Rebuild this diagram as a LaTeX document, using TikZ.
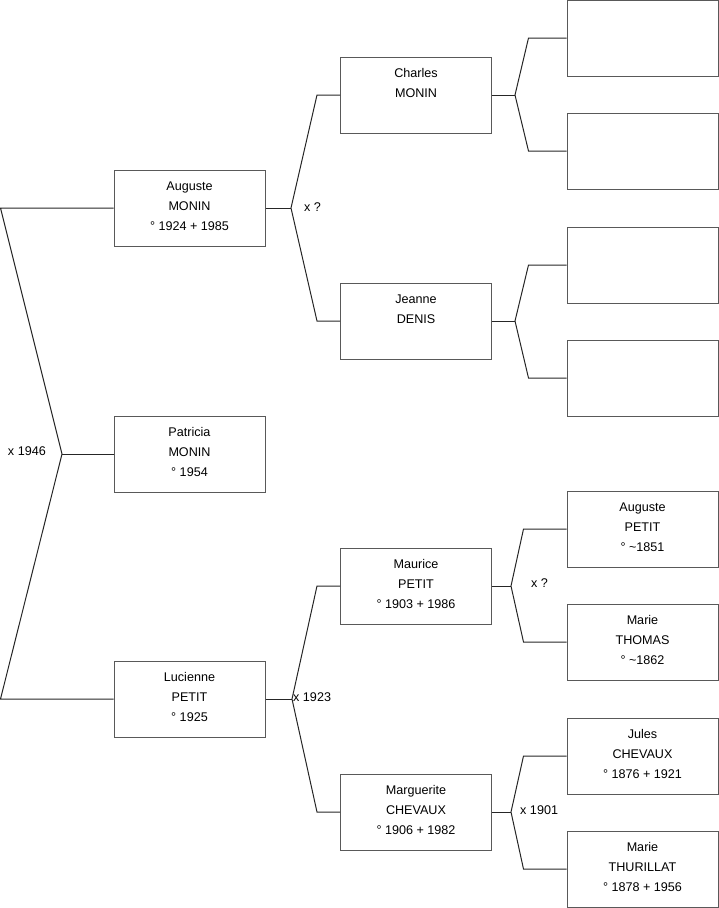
\documentclass[tikz,border=0pt]{standalone}
\usepackage{fontspec}
\setmainfont{Liberation Sans}
\usetikzlibrary{positioning}

\tikzset{
  person/.style={draw=black!65, line width=1pt, minimum width=151pt, minimum height=76pt, inner sep=0pt},
  names/.style={anchor=north, align=center, inner sep=0pt, yshift=-12pt, font=\fontsize{12.6}{20}\selectfont},
  link/.style={draw=black!85, line width=1pt},
  union/.style={font=\fontsize{12.6}{14}\selectfont, inner sep=0pt}
}

\begin{document}
\begin{tikzpicture}[x=1pt, y=-1pt]
    \useasboundingbox (0,0) rectangle (719,908);

    % generation 1 and 2
    \node[person, label={[names]north:{Auguste\\MONIN\\° 1924 + 1985}}] (auguste) at (189.5,208) {};
    \node[person, label={[names]north:{Patricia\\MONIN\\° 1954}}] (patricia) at (189.5,454) {};
    \node[person, label={[names]north:{Lucienne\\PETIT\\° 1925}}] (lucienne) at (189.5,699) {};

    % generation 3
    \node[person, label={[names]north:{Charles\\MONIN}}] (charles) at (416,95) {};
    \node[person, label={[names]north:{Jeanne\\DENIS}}] (jeanne) at (416,321) {};
    \node[person, label={[names]north:{Maurice\\PETIT\\° 1903 + 1986}}] (maurice) at (416,586) {};
    \node[person, label={[names]north:{Marguerite\\CHEVAUX\\° 1906 + 1982}}] (marguerite) at (416,812) {};

    % generation 4
    \node[person] (charlesf) at (642.5,38) {};
    \node[person] (charlesm) at (642.5,151) {};
    \node[person] (jeannef) at (642.5,265) {};
    \node[person] (jeannem) at (642.5,378) {};
    \node[person, label={[names]north:{Auguste\\PETIT\\° \textasciitilde1851}}] (mauricef) at (642.5,529) {};
    \node[person, label={[names]north:{Marie\\THOMAS\\° \textasciitilde1862}}] (mauricem) at (642.5,642) {};
    \node[person, label={[names]north:{Jules\\CHEVAUX\\° 1876 + 1921}}] (margueritef) at (642.5,756) {};
    \node[person, label={[names]north:{Marie\\THURILLAT\\° 1878 + 1956}}] (margueritem) at (642.5,869) {};

    % forks
    \coordinate (top) at (0.5,208);
    \coordinate (bottom) at (0.5,699);
    \coordinate (fork0) at (62,454);
    \coordinate (forka) at (291,208);
    \coordinate (forkl) at (292,699);
    \coordinate (forkc) at (515,95);
    \coordinate (forkj) at (515,321);
    \coordinate (forkm) at (511,586);
    \coordinate (forkg) at (511,812);

    \draw[link] (auguste.west) -- (top) -- (fork0) -- (bottom) -- (lucienne.west);
    \draw[link] (fork0) -- (patricia.west);

    \draw[link] (auguste.east) -- (forka);
    \draw[link] (charles.west) -- ++(-23,0) -- (forka) -- ([xshift=-23pt]jeanne.west) -- (jeanne.west);
    \draw[link] (lucienne.east) -- (forkl);
    \draw[link] (maurice.west) -- ++(-23,0) -- (forkl) -- ([xshift=-23pt]marguerite.west) -- (marguerite.west);

    \draw[link] (charles.east) -- (forkc);
    \draw[link] (charlesf.west) -- ++(-38,0) -- (forkc) -- ([xshift=-38pt]charlesm.west) -- (charlesm.west);
    \draw[link] (jeanne.east) -- (forkj);
    \draw[link] (jeannef.west) -- ++(-38,0) -- (forkj) -- ([xshift=-38pt]jeannem.west) -- (jeannem.west);
    \draw[link] (maurice.east) -- (forkm);
    \draw[link] (mauricef.west) -- ++(-43,0) -- (forkm) -- ([xshift=-43pt]mauricem.west) -- (mauricem.west);
    \draw[link] (marguerite.east) -- (forkg);
    \draw[link] (margueritef.west) -- ++(-43,0) -- (forkg) -- ([xshift=-43pt]margueritem.west) -- (margueritem.west);

    % marriages
    \node[union, anchor=east] (x1946) at ([xshift=-16pt,yshift=3pt]fork0) {x 1946};
    \node[union, anchor=west] (xa) at ([xshift=13pt,yshift=1pt]forka) {x ?};
    \node[union, anchor=west] (x1923) at ([xshift=1pt,yshift=2pt]forkl) {x 1923};
    \node[union, anchor=west] (xm) at ([xshift=20pt,yshift=3pt]forkm) {x ?};
    \node[union, anchor=west] (x1901) at ([xshift=9pt,yshift=2pt]forkg) {x 1901};
\end{tikzpicture}
\end{document}
